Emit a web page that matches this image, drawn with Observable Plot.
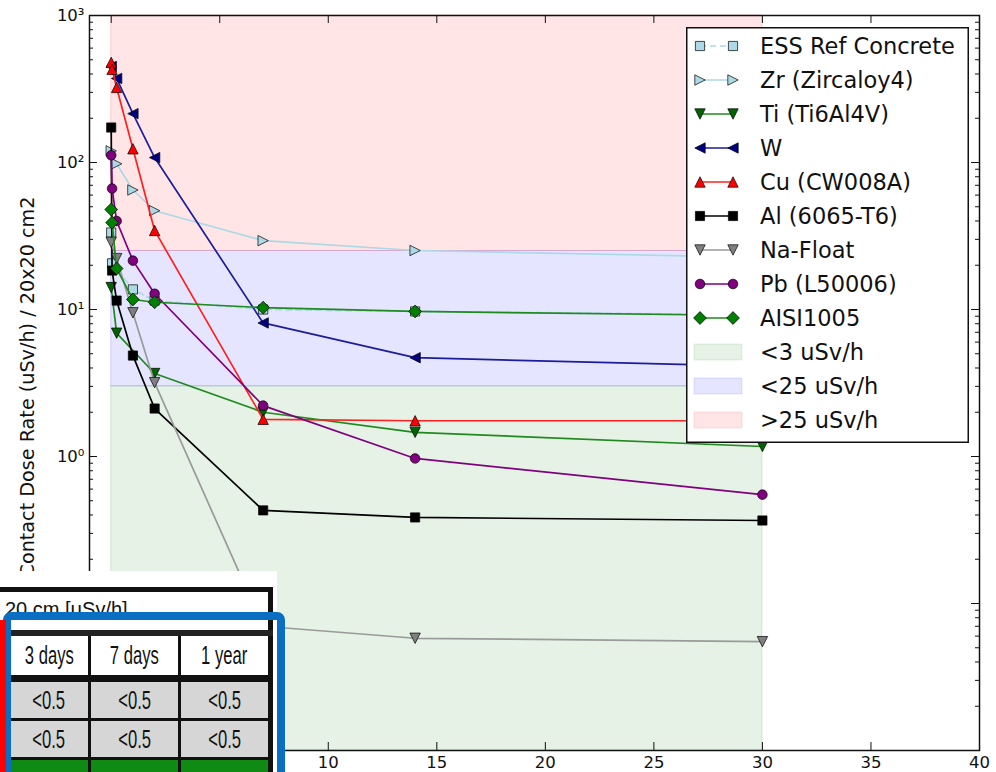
<!DOCTYPE html>
<html><head><meta charset="utf-8">
<script src="https://cdn.jsdelivr.net/npm/d3@7"></script>
<script src="https://cdn.jsdelivr.net/npm/@observablehq/plot@0.6"></script>
<style>
body{margin:0;background:#fff;}
#wrap{position:relative;width:996px;height:772px;overflow:hidden;font-family:"DejaVu Sans",sans-serif;}
#wrap svg{display:block;}
.abs{position:absolute;box-sizing:border-box;}
.cell{position:absolute;box-sizing:border-box;text-align:center;font-family:"Liberation Sans",Arial,sans-serif;font-size:26px;color:#111;white-space:nowrap;overflow:hidden;}
.cell span{display:inline-block;transform:scaleX(0.64);transform-origin:center;}
</style></head><body><div id="wrap"></div>
<script>
// ---------------- data ----------------
const seriesNames = ["ESS Ref Concrete","Zr (Zircaloy4)","Ti (Ti6Al4V)","W","Cu (CW008A)","Al (6065-T6)","Na-Float","Pb (L50006)","AISI1005"];
const essDays  = [0, 0.04, 1, 2, 7, 14, 30];
const essDose  = [33.4, 20.6, 13.7, 11.5, 10.0, 9.7, 9.2];
const zrDays   = [0, 0.25, 1, 2, 7, 14, 30];
const zrDose   = [120, 98, 65, 47, 29.4, 25.2, 22.6];
const tiDays   = [0, 0.25, 2, 7, 14, 30];
const tiDose   = [14.1, 6.9, 3.67, 2.0, 1.46, 1.17];
const wDays    = [0, 0.25, 1, 2, 7, 14, 30];
const wDose    = [450, 373, 215, 108, 8.1, 4.7, 4.1];
const cuDays   = [0, 0.04, 0.25, 1, 2, 7, 14, 30];
const cuDose   = [480, 430, 324, 124, 34.5, 1.79, 1.75, 1.75];
const alDays   = [0, 0.04, 0.25, 1, 2, 7, 14, 30];
const alDose   = [173, 18.4, 11.5, 4.86, 2.12, 0.43, 0.385, 0.367];
const naDays   = [0, 0.25, 1, 2, 7, 14, 30];
const naDose   = [28.6, 22.2, 9.5, 3.18, 0.070, 0.058, 0.055];
const pbDays   = [0, 0.04, 0.25, 1, 2, 7, 14, 30];
const pbDose   = [112, 66.5, 40, 21.5, 12.8, 2.22, 0.97, 0.55];
const aisiDays = [0, 0.04, 0.25, 1, 2, 7, 14, 30];
const aisiDose = [47.9, 39, 19, 11.7, 11.2, 10.3, 9.7, 9.1];

const bandNames = ["<3 uSv/h", "<25 uSv/h", ">25 uSv/h"];
const bandLow   = [0.01, 3, 25];
const bandHigh  = [3, 25, 1000];
const bandStart = 0, bandEnd = 30;

const xTicks = [0, 5, 10, 15, 20, 25, 30, 35, 40];
const yMajor = [0.01, 0.1, 1, 10, 100, 1000];
const yTickLabels = ["10\u207B\u00B2", "10\u207B\u00B9", "10\u2070", "10\u00B9", "10\u00B2", "10\u00B3"];
const yLabel = "Contact Dose Rate (uSv/h) / 20x20 cm2";

const tableHeader = "20 cm [\u03BCSv/h]";
const tableCols = ["3 days", "7 days", "1 year"];
const tableRows = [["<0.5","<0.5","<0.5"],["<0.5","<0.5","<0.5"],["<3","<3","<3"]];

// ---------------- symbols ----------------
function poly(pts){ return {draw(ctx, size){ const r = Math.sqrt(size/Math.PI); ctx.moveTo(pts[0][0]*r, pts[0][1]*r); for (let i=1;i<pts.length;i++) ctx.lineTo(pts[i][0]*r, pts[i][1]*r); ctx.closePath(); }}; }
const SYM = {
  square: poly([[-1,-1],[1,-1],[1,1],[-1,1]]),
  triUp: poly([[0,-1],[1,1],[-1,1]]),
  triDown: poly([[0,1],[1,-1],[-1,-1]]),
  triLeft: poly([[-1,0],[1,-1],[1,1]]),
  triRight: poly([[1,0],[-1,-1],[-1,1]]),
  diamond: poly([[0,-1],[1,0],[0,1],[-1,0]]),
  circle: {draw(ctx,size){ const r=Math.sqrt(size/Math.PI); ctx.moveTo(r,0); ctx.arc(0,0,r,0,2*Math.PI); ctx.closePath(); }}
};
const styles = [
  {line:"#add8e6", face:"#add8e6", sym:SYM.square,  r:4.6, dash:"6,4"},
  {line:"#add8e6", face:"#add8e6", sym:SYM.triRight,r:5.2},
  {line:"#1f8a1f", face:"#006400", sym:SYM.triDown, r:5.2},
  {line:"#1c1c9c", face:"#000080", sym:SYM.triLeft, r:5.2},
  {line:"#ff2020", face:"#ff0000", sym:SYM.triUp,   r:5.2},
  {line:"#000000", face:"#000000", sym:SYM.square,  r:4.6},
  {line:"#9a9a9a", face:"#808080", sym:SYM.triDown, r:5.2},
  {line:"#800080", face:"#800080", sym:SYM.circle,  r:4.8},
  {line:"#1f8a1f", face:"#008000", sym:SYM.diamond, r:6.4}
];
const allDays = [essDays, zrDays, tiDays, wDays, cuDays, alDays, naDays, pbDays, aisiDays];
const allDose = [essDose, zrDose, tiDose, wDose, cuDose, alDose, naDose, pbDose, aisiDose];
const series = seriesNames.map((name, k) => ({name, ...styles[k], data: allDays[k].map((t,i)=>({t, v: allDose[k][i]}))}));
const bandColors = ["green", "blue", "red"];
const bands = bandNames.map((n,i)=>({name:n, lo:bandLow[i], hi:bandHigh[i], x1:bandStart, x2:bandEnd, color:bandColors[i]}));

// ---------------- layout ----------------
const W = 996, H = 772, ML = 89, MR = 17, MT = 15, MB = 22;
const FW = W - ML - MR, FH = H - MT - MB;
const yMinor = yMajor.slice(0, -1).flatMap(d => [2,3,4,5,6,7,8,9].map(m => d*m));

const marks = [
  Plot.rect(bands, {x1:"x1", x2:"x2", y1:"lo", y2:"hi", fill:"color", fillOpacity:0.1, stroke:"color", strokeOpacity:0.15}),
  ...series.flatMap(s => [
    Plot.line(s.data, {x:"t", y:"v", stroke:s.line, strokeWidth:1.7, strokeDasharray:s.dash}),
    Plot.dot(s.data, {x:"t", y:"v", symbol:s.sym, r:s.r, fill:s.face, stroke:"#000", strokeWidth:0.7})
  ]),
  Plot.frame({stroke:"#111", strokeWidth:1.5}),
  Plot.tickY(yMajor, {y:d=>d, insetRight:FW-8, stroke:"#111"}),
  Plot.tickY(yMajor, {y:d=>d, insetLeft:FW-8, stroke:"#111"}),
  Plot.tickY(yMinor, {y:d=>d, insetRight:FW-4, stroke:"#111"}),
  Plot.tickY(yMinor, {y:d=>d, insetLeft:FW-4, stroke:"#111"}),
  Plot.tickX(xTicks, {x:d=>d, insetTop:FH-8, stroke:"#111"}),
  Plot.tickX(xTicks, {x:d=>d, insetBottom:FH-8, stroke:"#111"}),
  Plot.axisX({ticks:xTicks, tickSize:0, tickPadding:6, fontSize:16.5, label:null, tickFormat:d=>String(d)}),
  Plot.axisY({ticks:yMajor, tickSize:0, tickPadding:5, fontSize:16.5, label:null, tickFormat:d=>yTickLabels[yMajor.indexOf(d)]}),
  Plot.text([yLabel], {text:d=>d, frameAnchor:"left", textAnchor:"middle", dx:-62, dy:4, rotate:-90, fontSize:19.2})
];

const chart = Plot.plot({
  width:W, height:H, marginLeft:ML, marginRight:MR, marginTop:MT, marginBottom:MB,
  x:{domain:[-1,40]},
  y:{type:"log", domain:[0.01,1000]},
  style:{fontFamily:"DejaVu Sans, sans-serif", color:"#111", background:"#fff"},
  marks
});
const wrap = document.getElementById("wrap");
wrap.appendChild(chart);

// ---------------- legend ----------------
const LX = 686, LY = 27, LW = 283, LH = 416, rowGap = 34, row0 = 19;
const leg = d3.select(wrap).append("svg").attr("class","abs")
  .style("left", LX+"px").style("top", LY+"px").attr("width", LW).attr("height", LH);
leg.append("rect").attr("x",0.75).attr("y",0.75).attr("width",LW-1.5).attr("height",LH-1.5)
  .attr("fill","#fff").attr("stroke","#111").attr("stroke-width",1.5);
series.forEach((s,i) => {
  const y = row0 + i*rowGap;
  const g = leg.append("g");
  g.append("line").attr("x1",14).attr("x2",47).attr("y1",y).attr("y2",y)
    .attr("stroke",s.line).attr("stroke-width",1.7).attr("stroke-dasharray", s.dash || null);
  [14,47].forEach(x => {
    const p = d3.path(); s.sym.draw(p, s.r*s.r*Math.PI);
    g.append("path").attr("d", p.toString()).attr("transform",`translate(${x},${y})`)
      .attr("fill", s.face).attr("stroke","#000").attr("stroke-width",0.7);
  });
  g.append("text").attr("x",74).attr("y",y).attr("dy","0.36em").attr("font-size",22.5)
    .attr("font-family","DejaVu Sans, sans-serif").attr("fill","#111").text(s.name);
});
bands.forEach((b,i) => {
  const y = row0 + (series.length + i)*rowGap;
  leg.append("rect").attr("x",8).attr("y",y-8).attr("width",48).attr("height",16)
    .attr("fill",b.color).attr("fill-opacity",0.1).attr("stroke",b.color).attr("stroke-opacity",0.1);
  leg.append("text").attr("x",74).attr("y",y).attr("dy","0.36em").attr("font-size",22.5)
    .attr("font-family","DejaVu Sans, sans-serif").attr("fill","#111").text(b.name);
});

// ---------------- table overlay ----------------
function box(l,t,w,h,css){ const d=document.createElement("div"); d.className="abs"; Object.assign(d.style,{left:l+"px",top:t+"px",width:w+"px",height:h+"px"},css||{}); wrap.appendChild(d); return d; }
box(0,571,277,201,{background:"#fff"});
box(0,587,273,5,{background:"#111"});
box(268,587,5,190,{background:"#111"});
const hdr = box(5,596,250,26,{fontFamily:"Liberation Sans, Arial, sans-serif",fontSize:"20px",color:"#111",lineHeight:"26px",whiteSpace:"nowrap"});
hdr.textContent = tableHeader;
box(0,630,273,6,{background:"#222"});
const colX = [10, 91, 181], colW = [78, 87, 87];
const rowTops = [636, 682, 721, 760], rowH = [39, 36, 36, 30];
const rowBg = ["#fff", "#d6d6d6", "#d6d6d6", "#0f8a12"];
const rowLine = [39, 36, 36, 42];
const rowTexts = [tableCols, ...tableRows];
rowTexts.forEach((r,ri) => {
  r.forEach((txt,ci) => {
    const c = document.createElement("div"); c.className="cell";
    Object.assign(c.style,{left:colX[ci]+"px",top:rowTops[ri]+"px",width:colW[ci]+"px",height:rowH[ri]+"px",background:rowBg[ri],lineHeight:rowLine[ri]+"px"});
    const sp = document.createElement("span"); sp.textContent = txt; c.appendChild(sp);
    wrap.appendChild(c);
  });
});
box(0,675,273,7,{background:"#111"});
box(0,718,273,3,{background:"#111"});
box(0,757,273,3,{background:"#111"});
box(88,636,3,140,{background:"#111"});
box(178,636,3,140,{background:"#111"});
box(3,612,282,210,{border:"8px solid #0a6fc2",borderRadius:"8px"});
box(0,620,6,160,{background:"#ff0000"});
</script></body></html>
